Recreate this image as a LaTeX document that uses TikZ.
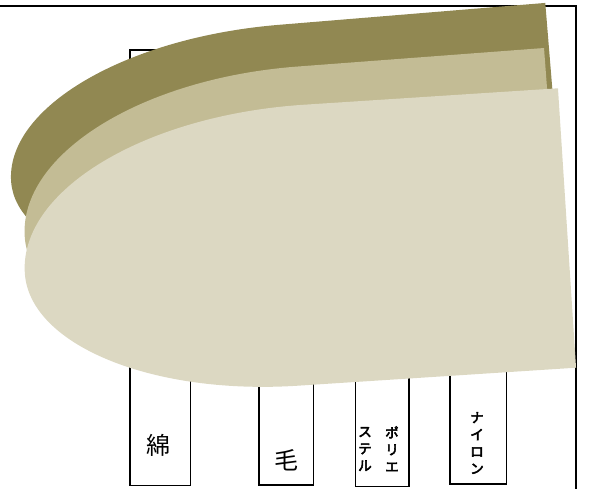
\documentclass[tikz,border=0pt]{standalone}
\usepackage{fontspec}
\newfontfamily\jpfont{Noto Sans CJK JP}
\newfontfamily\jpboldfont[FakeBold=4]{Noto Sans CJK JP}
\definecolor{darkolive}{RGB}{145,136,82}
\definecolor{midolive}{RGB}{195,188,149}
\definecolor{lightolive}{RGB}{220,216,194}
% #1,#2 right-edge midpoint, #3 angle, #4 length to tip, #5 top x-radius,
% #6 half height, #7 colour, #8 tip offset (down), #9 bottom x-radius
\newcommand\tongueshape[9]{%
  \begin{scope}[shift={(#1,#2)},rotate=#3]
    \fill[#7] (0,-#6) -- ({-(#4-#5)},-#6)
      .. controls ({-(#4-#5)-0.5523*#5},-#6) and (-#4,{#8-0.5523*(#6+#8)}) .. (-#4,#8)
      .. controls (-#4,{#8+0.5523*(#6-#8)}) and ({-(#4-#9)-0.5523*#9},#6) .. ({-(#4-#9)},#6)
      -- (0,#6) -- cycle;
  \end{scope}}
\tikzset{
  frameline/.style={line width=1.7pt},
  colbox/.style={draw, line width=1.7pt, rectangle, inner sep=0pt, outer sep=0pt},
  bigchar/.style={font=\jpfont\fontsize{24}{24}\selectfont, inner sep=0pt},
  katacol/.style={font=\jpboldfont\fontsize{13.5}{17}\selectfont, align=center, inner sep=0pt}
}
\begin{document}
\begin{tikzpicture}[x=1pt,y=-1pt]
\useasboundingbox (0,0) rectangle (589,488);
% frame
\coordinate (fl) at (0,6);
\coordinate (fr) at (576,6);
\coordinate (fb) at (576,489);
\draw[frameline] (fl) -- (fr) -- (fb);
% column boxes
\node[colbox, minimum width=60.5pt, minimum height=435.5pt] (b1) at (160.25,267.75) {};
\node[colbox, minimum width=54.5pt, minimum height=435pt] (b2) at (286.25,267.5) {};
\node[colbox, minimum width=53.5pt, minimum height=436.5pt] (b3) at (382.25,268.25) {};
\node[colbox, minimum width=56.5pt, minimum height=434pt] (b4) at (478.25,267) {};
% stacked shapes
\tongueshape{555.5}{127.5}{4.7}{547}{280}{125}{darkolive}{10}{250}
\tongueshape{554.5}{187.6}{4.3}{532}{285}{140}{midolive}{10}{265}
\tongueshape{567}{228}{3.7}{544}{290}{140}{lightolive}{10}{265}
% labels
\node[bigchar] (t1) at (158,445) {綿};
\node[bigchar] (t2) at (286,460) {毛};
\node[katacol] (t3a) at (392,449) {ポ\\リ\\エ};
\node[katacol] (t3b) at (365,449) {ス\\テ\\ル};
\node[katacol] (t4) at (477,443) {ナ\\イ\\ロ\\ン};
\end{tikzpicture}
\end{document}
